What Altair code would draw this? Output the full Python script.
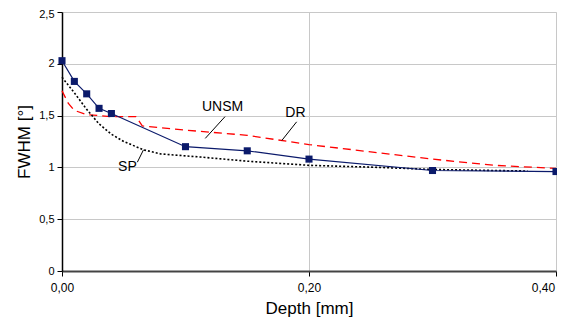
import altair as alt
import pandas as pd

# UNSM measured (markers)
unsm_x = [0.0, 0.01, 0.02, 0.03, 0.04, 0.10, 0.15, 0.20, 0.30, 0.40]
unsm_y = [2.03, 1.83, 1.71, 1.57, 1.52, 1.20, 1.16, 1.08, 0.97, 0.96]

# DR (red dashed)
dr_x = [0.0, 0.005, 0.01, 0.02, 0.04, 0.06, 0.065, 0.10, 0.15, 0.20, 0.25, 0.30, 0.35, 0.40]
dr_y = [1.74, 1.62, 1.55, 1.51, 1.49, 1.49, 1.40, 1.36, 1.31, 1.22, 1.15, 1.08, 1.02, 0.99]

# SP (black dotted)
sp_x = [0.0, 0.01, 0.02, 0.03, 0.04, 0.05, 0.066, 0.08, 0.112, 0.15, 0.20, 0.257, 0.30, 0.377]
sp_y = [1.87, 1.72, 1.56, 1.42, 1.32, 1.25, 1.17, 1.13, 1.10, 1.06, 1.02, 1.00, 0.98, 0.965]

# annotation labels (data units)
lab_text = ["UNSM", "DR", "SP"]
lab_x = [0.130, 0.189, 0.053]
lab_y = [1.58, 1.525, 1.00]
lead_x = [0.132, 0.190, 0.061]
lead_y = [1.49, 1.44, 1.05]
lead_x2 = [0.116, 0.178, 0.066]
lead_y2 = [1.28, 1.26, 1.17]

unsm = pd.DataFrame({"x": unsm_x, "y": unsm_y})
dr = pd.DataFrame({"x": dr_x, "y": dr_y})
sp = pd.DataFrame({"x": sp_x, "y": sp_y})
labs = pd.DataFrame({"t": lab_text, "x": lab_x, "y": lab_y})
leads = pd.DataFrame({"x": lead_x, "y": lead_y, "x2": lead_x2, "y2": lead_y2})

FONT = "Liberation Sans"

xs = alt.Scale(domain=[0, 0.4], nice=False)
ys = alt.Scale(domain=[0, 2.5], nice=False)

xenc = alt.X("x:Q", scale=xs, axis=alt.Axis(
    title="Depth [mm]", values=[0, 0.2, 0.4],
    labelExpr="replace(format(datum.value, '.2f'), '.', ',')",
    labelOffset=alt.condition("datum.value >= 0.39", alt.value(-13), alt.value(0)),
    grid=True, gridColor="#c8c8c8", domainColor="#444444", domainWidth=2,
    tickColor="#000000", tickSize=5, labelFontSize=12, labelColor="#000000",
    titleFontSize=17, titleFontWeight="normal", titleColor="#000000",
    labelFont=FONT, titleFont=FONT, labelPadding=6, titlePadding=7,
    labelFlush=False))
yenc = alt.Y("y:Q", scale=ys, axis=alt.Axis(
    title="FWHM [°]", values=[0, 0.5, 1, 1.5, 2, 2.5],
    labelExpr="replace(format(datum.value, '~g'), '.', ',')",
    labelOffset=alt.condition("datum.value >= 2.4", alt.value(2), alt.value(0)),
    grid=True, gridColor="#c8c8c8", domainColor="#000000", domainWidth=1.5,
    tickColor="#000000", tickSize=5, labelFontSize=11, labelColor="#000000",
    titleFontSize=17, titleFontWeight="normal", titleColor="#000000",
    labelFont=FONT, titleFont=FONT, labelPadding=3, titlePadding=5))

dr_line = alt.Chart(dr).mark_line(color="#ff0000", strokeDash=[8, 5], strokeWidth=1.3).encode(x=xenc, y=yenc)
sp_line = alt.Chart(sp).mark_line(color="#000000", strokeDash=[2, 2], strokeWidth=1.6).encode(x="x:Q", y="y:Q")
unsm_line = alt.Chart(unsm).mark_line(color="#0b1a6b", strokeWidth=1.2).encode(x="x:Q", y="y:Q")
unsm_pts = alt.Chart(unsm).mark_square(color="#0b1a6b", size=50, opacity=1).encode(x="x:Q", y="y:Q")
lead = alt.Chart(leads).mark_rule(color="#000000", strokeWidth=1).encode(x="x:Q", y="y:Q", x2="x2:Q", y2="y2:Q")
text = alt.Chart(labs).mark_text(font=FONT, fontSize=14, color="#000000").encode(x="x:Q", y="y:Q", text="t:N")

chart = alt.layer(dr_line, sp_line, unsm_line, unsm_pts, lead, text).properties(
    width=494, height=259,
    autosize=alt.AutoSizeParams(type="none"),
    padding={"left": 54, "top": 4, "right": 1, "bottom": 46},
).configure_view(stroke=None).configure(background="#ffffff")

chart.save("out.html", embed_options={"renderer": "svg", "actions": False})
